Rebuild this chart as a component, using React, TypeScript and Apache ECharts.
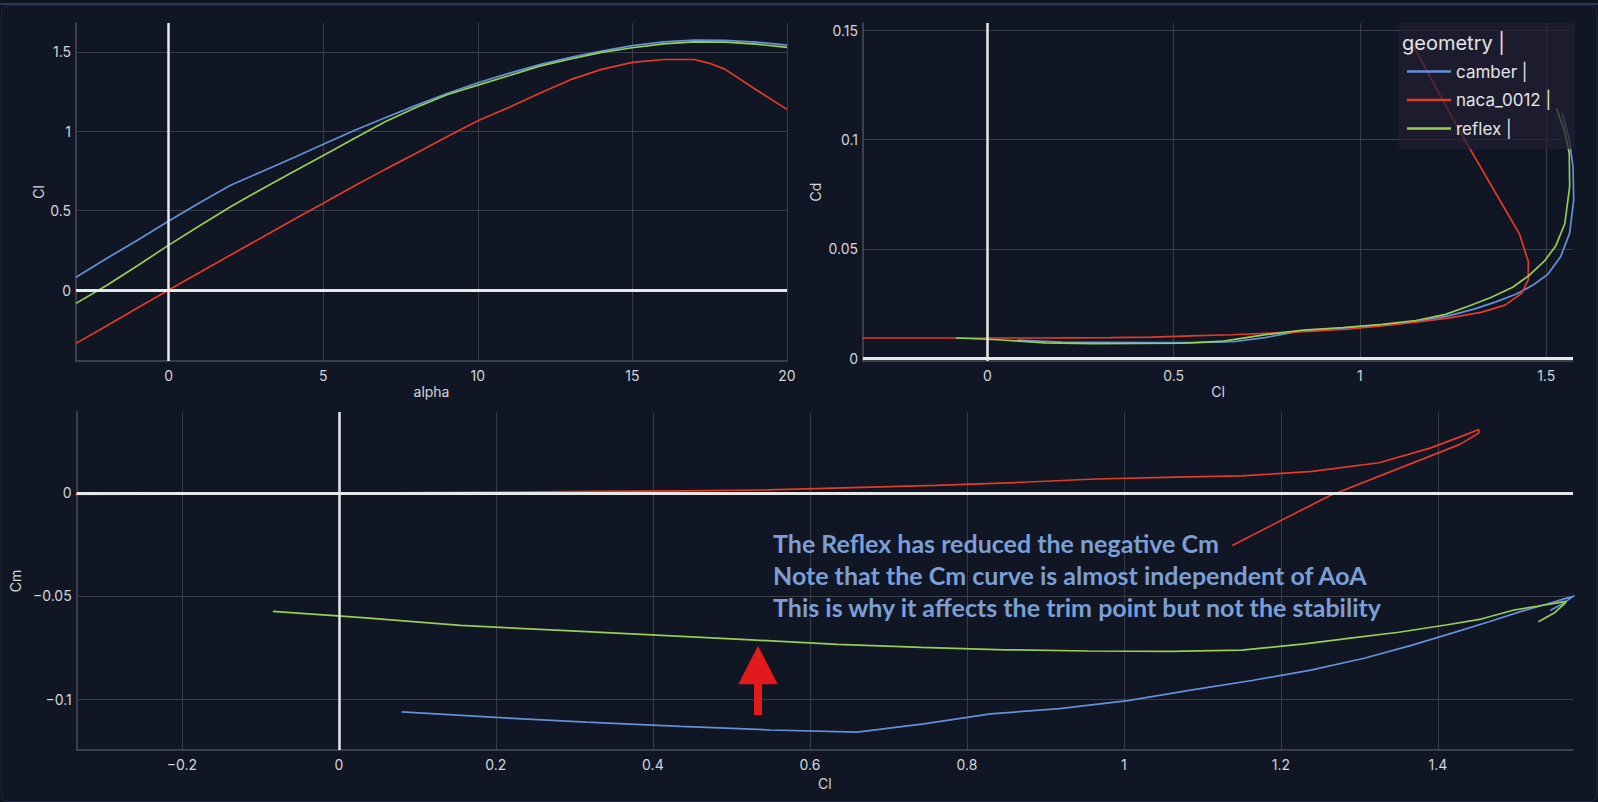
import React, { useEffect, useRef } from "react";
import * as echarts from "echarts";

// ---------- data ----------
const seriesNames = ["camber", "naca_0012", "reflex"];
const seriesColors = ["#6490d8", "#e53a26", "#95cf55"];

const camberAlpha = [-3, -2, -1, 0, 1, 2, 3, 4, 5, 6, 7, 8, 9, 10, 11, 12, 13, 14, 15, 16, 17, 18, 19, 20];
const camberCl = [0.08, 0.2, 0.315, 0.435, 0.55, 0.66, 0.745, 0.83, 0.918, 1.005, 1.085, 1.163, 1.238, 1.306, 1.365, 1.42, 1.465, 1.505, 1.539, 1.563, 1.574, 1.572, 1.562, 1.543];
const camberCd = [0.0084, 0.0074, 0.0073, 0.0072, 0.0072, 0.0076, 0.0095, 0.0122, 0.0134, 0.0145, 0.0155, 0.0172, 0.0194, 0.0225, 0.0258, 0.0294, 0.0335, 0.0385, 0.0465, 0.0572, 0.0724, 0.0876, 0.1, 0.112];
const camberCm = [-0.1062, -0.1089, -0.1112, -0.1132, -0.115, -0.116, -0.112, -0.1072, -0.1046, -0.1008, -0.0957, -0.091, -0.086, -0.0802, -0.0741, -0.0678, -0.0625, -0.0576, -0.0539, -0.0512, -0.05, -0.0502, -0.053, -0.057];

const nacaAlpha = [-3, -2, -1, 0, 1, 2, 3, 4, 5, 6, 7, 8, 9, 10, 11, 12, 13, 14, 15, 16, 17, 17.5, 18, 19, 20];
const nacaCl = [-0.336, -0.225, -0.112, 0, 0.11, 0.22, 0.33, 0.44, 0.546, 0.655, 0.76, 0.862, 0.965, 1.066, 1.15, 1.24, 1.325, 1.39, 1.434, 1.452, 1.452, 1.428, 1.39, 1.262, 1.138];
const nacaCd = [0.0093, 0.0093, 0.0093, 0.0093, 0.0093, 0.0094, 0.0095, 0.0097, 0.0103, 0.0108, 0.0115, 0.0123, 0.0133, 0.015, 0.0165, 0.0185, 0.021, 0.0243, 0.0297, 0.036, 0.0442, 0.057, 0.068, 0.1055, 0.1445];
const nacaCm = [-0.0008, -0.0006, -0.0004, -0.0002, 0.0001, 0.0004, 0.0007, 0.001, 0.0014, 0.0025, 0.0036, 0.005, 0.0067, 0.0076, 0.0082, 0.0104, 0.0146, 0.0217, 0.028, 0.0307, 0.029, 0.0235, 0.0178, -0.0014, -0.0255];

const reflexAlpha = [-3, -2, -1, 0, 1, 2, 3, 4, 5, 6, 7, 8, 9, 10, 11, 12, 13, 14, 15, 16, 17, 18, 19, 20];
const reflexCl = [-0.084, 0.03, 0.155, 0.283, 0.405, 0.525, 0.635, 0.742, 0.848, 0.955, 1.06, 1.15, 1.23, 1.291, 1.35, 1.41, 1.455, 1.497, 1.526, 1.55, 1.563, 1.562, 1.549, 1.528];
const reflexCd = [0.0093, 0.0085, 0.0071, 0.0067, 0.0068, 0.0069, 0.0079, 0.0107, 0.0129, 0.0141, 0.0155, 0.0173, 0.0201, 0.0238, 0.0277, 0.0325, 0.038, 0.0448, 0.0515, 0.0615, 0.0785, 0.0937, 0.104, 0.114];
const reflexCm = [-0.0575, -0.0605, -0.0643, -0.0667, -0.069, -0.0713, -0.0735, -0.0749, -0.0761, -0.0767, -0.0769, -0.0763, -0.0732, -0.0703, -0.0676, -0.0641, -0.0612, -0.0568, -0.055, -0.0535, -0.0526, -0.0535, -0.058, -0.0625];

const alphaTicks = [0, 5, 10, 15, 20];
const clLiftTicks = [0, 0.5, 1, 1.5];
const clTicksTop = [0, 0.5, 1, 1.5];
const cdTicks = [0, 0.05, 0.1, 0.15];
const clTicksBottom = [-0.2, 0, 0.2, 0.4, 0.6, 0.8, 1, 1.2, 1.4];
const cmTicks = [-0.1, -0.05, 0];

const annotationLines = [
  "The Reflex has reduced the negative Cm",
  "Note that the Cm curve is almost independent of AoA",
  "This is why it affects the trim point but not the stability",
];

// ---------- helpers ----------
const TXT = "#d4d6da";
const FONT = "Inter";

const fmt = (v: number) => String(Math.round(v * 1e6) / 1e6).replace("-", "\u2212");

function axis(min: number, max: number, ticks: number[], name: string, nameGap: number, gridIndex: number, isY: boolean) {
  return {
    type: "value",
    gridIndex,
    min,
    max,
    name,
    nameLocation: "middle",
    nameGap,
    nameTextStyle: { color: TXT, fontSize: 14, fontFamily: FONT },
    axisLine: { show: true, onZero: false, lineStyle: { color: "#4b4e56", width: 1.5 } },
    axisTick: { show: false, customValues: ticks },
    axisLabel: {
      customValues: ticks,
      color: TXT,
      fontSize: 14,
      fontFamily: FONT,
      margin: isY ? 5 : 7,
      formatter: fmt,
    },
    splitLine: { show: true, lineStyle: { color: "#3a3d45", width: 1 } },
  };
}

function zeroSeries(gi: number) {
  return {
    type: "line",
    xAxisIndex: gi,
    yAxisIndex: gi,
    data: [[0, 0]],
    showSymbol: false,
    silent: true,
    lineStyle: { opacity: 0 },
    markLine: {
      silent: true,
      symbol: ["none", "none"],
      label: { show: false },
      emphasis: { disabled: true },
      lineStyle: { color: "#e8e8e8", width: 3, type: "solid" },
      data: [{ xAxis: 0, lineStyle: { color: "#e8e8e8", width: 2.5, type: "solid" } }, { yAxis: 0 }],
    },
  };
}

function zip(a: number[], b: number[]) {
  return a.map((v, i) => [v, b[i]]);
}

const airfoils = [
  { alpha: camberAlpha, cl: camberCl, cd: camberCd, cm: camberCm },
  { alpha: nacaAlpha, cl: nacaCl, cd: nacaCd, cm: nacaCm },
  { alpha: reflexAlpha, cl: reflexCl, cd: reflexCd, cm: reflexCm },
];

export default function App() {
  const ref = useRef<HTMLDivElement>(null);
  useEffect(() => {
    const chart = echarts.init(ref.current!, null, { renderer: "svg" });
    const dataSeries: any[] = [];
    airfoils.forEach((a, k) => {
      const base = {
        type: "line",
        name: seriesNames[k],
        showSymbol: false,
        color: seriesColors[k],
        lineStyle: { width: 1.7, color: seriesColors[k] },
        emphasis: { disabled: true },
      };
      dataSeries.push({ ...base, xAxisIndex: 0, yAxisIndex: 0, data: zip(a.alpha, a.cl) });
      dataSeries.push({ ...base, xAxisIndex: 1, yAxisIndex: 1, data: zip(a.cl, a.cd) });
      dataSeries.push({ ...base, xAxisIndex: 2, yAxisIndex: 2, data: zip(a.cl, a.cm) });
    });

    const option: any = {
      animation: false,
      backgroundColor: "transparent",
      textStyle: { fontFamily: FONT },
      grid: [
        { left: 76, top: 23, width: 711, height: 338 },
        { left: 863, top: 23, width: 710, height: 338 },
        { left: 76, top: 412, width: 1497, height: 338 },
      ],
      xAxis: [
        axis(-3, 20, alphaTicks, "alpha", 23, 0, false),
        axis(-0.334, 1.572, clTicksTop, "Cl", 23, 1, false),
        axis(-0.334, 1.572, clTicksBottom, "Cl", 26, 2, false),
      ],
      yAxis: [
        axis(-0.447, 1.682, clLiftTicks, "Cl", 31, 0, true),
        axis(-0.0012, 0.1532, cdTicks, "Cd", 41, 1, true),
        axis(-0.1247, 0.0392, cmTicks, "Cm", 50, 2, true),
      ],
      legend: {
        data: seriesNames,
        orient: "vertical",
        left: 1399,
        top: 23,
        padding: [40, 24, 12, 8],
        itemGap: 11.5,
        itemWidth: 44,
        itemHeight: 2.5,
        icon: "rect",
        selectedMode: false,
        backgroundColor: "rgba(35,30,50,0.72)",
        textStyle: { color: "#e4e4e6", fontSize: 17, fontFamily: FONT },
        formatter: (n: string) => n + " |",
      },
      graphic: [
        {
          type: "text",
          x: 1402,
          y: 43,
          z: 100,
          style: { text: "geometry |", fill: "#e4e4e6", font: "20px Inter", verticalAlign: "middle" },
        },
        ...annotationLines.map((t, i) => ({
          type: "text",
          x: 773,
          y: 542.5 + i * 32,
          z: 100,
          style: { text: t, fill: "#7b9fd5", font: "bold 25px Lato", verticalAlign: "middle" },
        })),
        {
          type: "polygon",
          z: 100,
          shape: { points: [[758, 645.7], [738.3, 684.3], [777.7, 684.3]] },
          style: { fill: "#e31a1c" },
        },
        {
          type: "rect",
          z: 100,
          shape: { x: 754, y: 683, width: 8, height: 32 },
          style: { fill: "#e31a1c" },
        },
      ],
      series: [zeroSeries(0), zeroSeries(1), zeroSeries(2), ...dataSeries],
    };
    chart.setOption(option);
    return () => chart.dispose();
  }, []);

  return (
    <div style={{ position: "fixed", left: 0, top: 0, width: 1598, height: 802, background: "#0f1421", overflow: "hidden" }}>
      <div style={{ position: "absolute", left: 0, top: 3, width: 1598, height: 2, background: "#283756" }} />
      <div
        style={{
          position: "absolute",
          left: 1,
          top: 5,
          width: 1596,
          height: 797,
          border: "1px solid #1d283e",
          borderRadius: 6,
          background: "#111624",
          boxSizing: "border-box",
        }}
      />
      <div ref={ref} style={{ position: "absolute", left: 0, top: 0, width: 1598, height: 802 }} />
    </div>
  );
}
